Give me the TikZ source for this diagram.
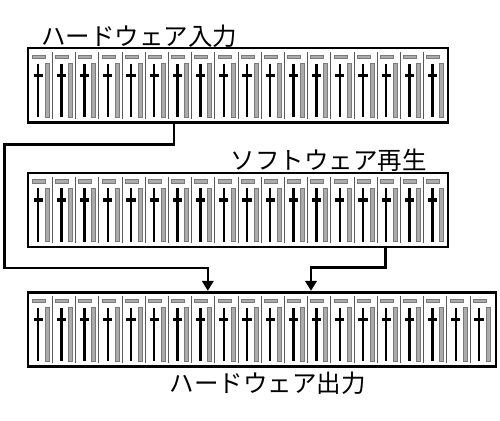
\documentclass[tikz,border=0pt]{standalone}
\usepackage{fontspec}
\newfontfamily\jpfont{Noto Sans CJK JP}
\usetikzlibrary{arrows.meta}
\tikzset{
  mixbox/.style={draw=black, line width=2.6pt, fill=white, inner sep=0pt, outer sep=0pt, anchor=north west, minimum height=74pt},
  chanlab/.style={fill=black!33, draw=black!52, line width=0.7pt},
  meterbar/.style={fill=black!33, draw=black!52, line width=0.7pt},
  faderline/.style={draw=black, line width=2.4pt},
  knob/.style={draw=black, line width=3.6pt},
  divline/.style={draw=black!65, line width=1.1pt},
  conn/.style={draw=black, line width=2.2pt},
  arrowconn/.style={conn, -{Triangle[width=11.6pt,length=10pt]}, shorten >=1.4pt},
  title/.style={font=\jpfont\fontsize{24.5}{24.5}\selectfont, inner sep=0pt}
}
\newcommand\drawstrips[3]{%
  \foreach \i in {1,...,#3}{
    \pgfmathsetmacro\xo{#1+1.25+23.2*(\i-1)}
    \path[chanlab] (\xo+3,#2+6.7) rectangle (\xo+16,#2+10.5);
    \path[meterbar] (\xo+16,#2+15.5) rectangle (\xo+20,#2+69);
    \path[faderline] (\xo+9,#2+15.5) -- (\xo+9,#2+69);
    \path[knob] (\xo+4.4,#2+27.3) -- (\xo+13.6,#2+27.3);
    \ifnum\i>1 \path[divline] (\xo,#2+4) -- (\xo,#2+70.5);\fi
  }
}
\begin{document}
\begin{tikzpicture}[x=1pt,y=-1pt]
\useasboundingbox (0,0) rectangle (500,420);
% boxes
\node[mixbox, minimum width=420.1pt] (hwin) at (28,48.2) {};
\drawstrips{28}{48.2}{18}
\node[mixbox, minimum width=420.1pt] (swplay) at (28,172.8) {};
\drawstrips{28}{172.8}{18}
\node[mixbox, minimum width=468pt] (hwout) at (28,292.2) {};
\drawstrips{28}{292.2}{20}
% titles
\node[title] (t1) at (139,36) {ハードウェア入力};
\node[title] (t2) at (328.5,160) {ソフトウェア再生};
\node[title] (t3) at (267.5,383.5) {ハードウェア出力};
% connectors
\coordinate (p1) at (174,144.5);
\coordinate (p2) at (4.5,144.5);
\coordinate (p3) at (4.5,267.8);
\coordinate (p4) at (207.8,267.8);
\draw[arrowconn] (hwin.south -| p1) -- (p1) -- (p2) -- (p3) -- (p4) -- (p4 |- hwout.north);
\coordinate (q1) at (385.5,267.5);
\coordinate (q2) at (311,267.5);
\draw[arrowconn] (swplay.south -| q1) -- (q1) -- (q2) -- (q2 |- hwout.north);
\end{tikzpicture}
\end{document}
